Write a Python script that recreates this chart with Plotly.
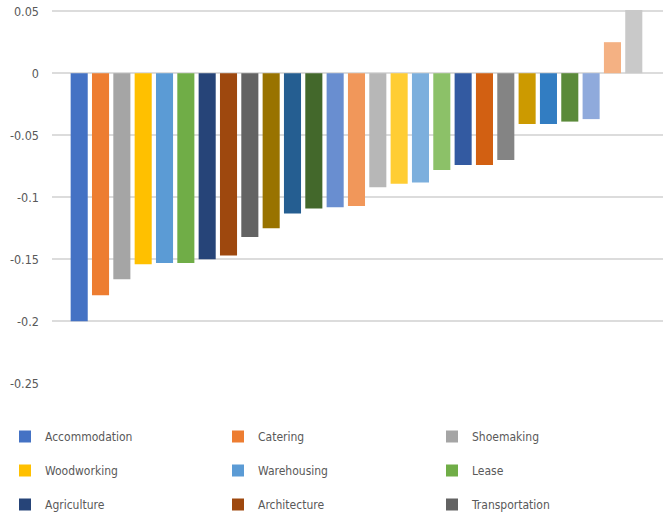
import plotly.graph_objects as go

# Industries in plotted order with their values
industries = [
    "Accommodation", "Catering", "Shoemaking",
    "Woodworking", "Warehousing", "Lease",
    "Agriculture", "Architecture", "Transportation",
    "Real Estate", "Eco-Environment Protection", "Papermaking",
    "Retail", "Textile", "Mining",
    "Printing", "Education", "Healthcare",
    "Chemicals", "Electricity", "Water Supply",
    "Telecommunications", "Finance", "Software",
    "Pharmaceuticals", "Tobacco", "Gas Supply",
]
values = [
    -0.200, -0.179, -0.166,
    -0.154, -0.153, -0.153,
    -0.150, -0.147, -0.132,
    -0.125, -0.113, -0.109,
    -0.108, -0.107, -0.092,
    -0.089, -0.088, -0.078,
    -0.074, -0.074, -0.070,
    -0.041, -0.041, -0.039,
    -0.037, 0.025, 0.051,
]
colors = [
    "#4472C4", "#ED7D31", "#A5A5A5", "#FFC000", "#5B9BD5", "#70AD47",
    "#264478", "#9E480E", "#636363", "#997300", "#255E91", "#43682B",
    "#698ED0", "#F1975A", "#B7B7B7", "#FFCD33", "#7CAFDD", "#8CC168",
    "#335AA1", "#D26012", "#848484", "#CC9A00", "#327DC2", "#5A8A39",
    "#8FAADC", "#F4B183", "#C9C9C9",
]
tick_vals = [0.05, 0, -0.05, -0.1, -0.15, -0.2, -0.25]
tick_text = ["0.05", "0", "-0.05", "-0.1", "-0.15", "-0.2", "-0.25"]

FONT = "DejaVu Sans Condensed, Liberation Sans Narrow, Liberation Sans, sans-serif"
TEXT_COLOR = "#595959"
GRID = "#DCDCDC"

legend_names = ["legend", "legend2", "legend3"]
shown_in_legend = 9

fig = go.Figure()
for i, (name, val, col) in enumerate(zip(industries, values, colors)):
    fig.add_trace(go.Bar(
        x=[i], y=[val], name=name, width=0.8,
        marker=dict(color=col, line=dict(width=0)),
        legendgroup=name,
        legend=legend_names[i % 3],
        showlegend=i < shown_in_legend,
    ))

W, H = 663, 532
ML, MR, MT, MB = 52, 0, 0, 148
PW, PH = W - ML - MR, H - MT - MB

# legend columns positioned in paper coordinates of the plot area
legend_left_px = [5, 218, 432]
legend_top_px = 422
common_legend = dict(
    xanchor="left", yanchor="top",
    orientation="v", bgcolor="rgba(0,0,0,0)", borderwidth=0,
    font=dict(family=FONT, size=12, color=TEXT_COLOR),
    tracegroupgap=15, itemclick=False, itemdoubleclick=False,
)
legends = {}
for key, lx in zip(legend_names, legend_left_px):
    legends[key] = dict(common_legend,
                        x=(lx - ML) / PW,
                        y=1 - (legend_top_px - MT) / PH)

fig.update_layout(
    width=W, height=H,
    margin=dict(l=ML, r=MR, t=MT, b=MB, autoexpand=False),
    paper_bgcolor="white", plot_bgcolor="white",
    barmode="overlay",
    font=dict(family=FONT, size=12, color=TEXT_COLOR),
    xaxis=dict(range=[-1.275, 27.37], showticklabels=False, showgrid=False,
               zeroline=False, showline=False, fixedrange=True),
    yaxis=dict(range=[-0.2505, 0.059], tickvals=tick_vals, ticktext=tick_text,
               showgrid=True, gridcolor=GRID, gridwidth=1.5,
               zeroline=True, zerolinecolor=GRID, zerolinewidth=1.5,
               showline=False, ticklabelstandoff=12,
               tickfont=dict(family=FONT, size=12.5, color=TEXT_COLOR),
               fixedrange=True),
    **legends,
)

fig.write_html("out.html")
